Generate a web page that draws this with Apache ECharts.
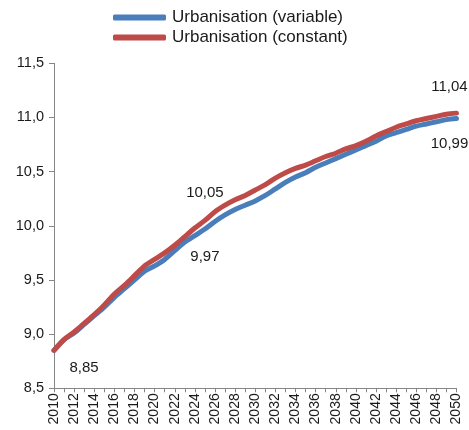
<!DOCTYPE html>
<html>
<head>
<meta charset="utf-8">
<script src="https://cdn.jsdelivr.net/npm/echarts@6/dist/echarts.min.js"></script>
<style>
  html, body { margin: 0; padding: 0; background: #fff; }
  #chart { width: 469px; height: 430px; }
</style>
</head>
<body>
<div id="chart"></div>
<script>
// Years on the horizontal axis
const years = [];
for (let y = 2010; y <= 2050; y++) years.push(String(y));

// Urbanisation held variable
const variableValues = [
  8.85, 8.95, 9.01, 9.09, 9.17, 9.25, 9.34, 9.42, 9.50, 9.58,
  9.63, 9.69, 9.77, 9.85, 9.91, 9.97, 10.04, 10.10, 10.15, 10.19,
  10.23, 10.28, 10.34, 10.40, 10.45, 10.49, 10.54, 10.58, 10.62, 10.66,
  10.70, 10.74, 10.78, 10.83, 10.86, 10.89, 10.92, 10.94, 10.96, 10.98,
  10.99
];

// Urbanisation held constant
const constantValues = [
  8.85, 8.95, 9.02, 9.10, 9.18, 9.27, 9.37, 9.45, 9.54, 9.63,
  9.69, 9.75, 9.82, 9.90, 9.98, 10.05, 10.13, 10.19, 10.24, 10.28,
  10.33, 10.38, 10.44, 10.49, 10.53, 10.56, 10.60, 10.64, 10.67, 10.71,
  10.74, 10.78, 10.83, 10.87, 10.91, 10.94, 10.97, 10.99, 11.01, 11.03,
  11.04
];

// Y axis range
const yMin = 8.5;
const yMax = 11.5;
const yStep = 0.5;

const fmt2 = v => v.toFixed(2).replace('.', ',');

// Attach value labels to selected points
function withLabels(values, labelled) {
  return values.map((v, i) => {
    const cfg = labelled[years[i]];
    if (!cfg) return v;
    return {
      value: v,
      label: Object.assign({
        show: true,
        formatter: p => fmt2(p.value),
        color: '#1a1a1a',
        fontSize: 15,
        fontFamily: 'Liberation Sans, Arial, sans-serif'
      }, cfg)
    };
  });
}

const variableData = withLabels(variableValues, {
  '2025': { position: 'bottom', offset: [0, 15] },
  '2050': { position: 'bottom', offset: [-7, 13] }
});
const constantData = withLabels(constantValues, {
  '2010': { position: 'bottom', offset: [30, 5] },
  '2025': { position: 'top', offset: [0, -15] },
  '2050': { position: 'top', offset: [-7, -14] }
});

const chart = echarts.init(document.getElementById('chart'), null, { renderer: 'canvas' });

chart.setOption({
  animation: false,
  backgroundColor: '#fff',
  textStyle: { fontFamily: 'Liberation Sans, Arial, sans-serif' },
  legend: {
    orient: 'vertical',
    left: 108,
    top: 4,
    itemWidth: 53,
    itemHeight: 6,
    itemGap: 3,
    icon: 'roundRect',
    textStyle: { fontSize: 17, color: '#1a1a1a', padding: [0, 0, 0, 1] },
    data: ['Urbanisation (variable)', 'Urbanisation (constant)']
  },
  grid: { left: 54, right: 12.5, top: 63.3, bottom: 41.7, containLabel: false },
  xAxis: {
    type: 'category',
    data: years,
    boundaryGap: false,
    axisLine: { lineStyle: { color: '#868686', width: 1 } },
    axisTick: { show: true, interval: 0, length: 4, lineStyle: { color: '#868686' } },
    axisLabel: { interval: 1, rotate: 90, margin: 5, fontSize: 14, color: '#1a1a1a' },
    splitLine: { show: false }
  },
  yAxis: {
    type: 'value',
    min: yMin,
    max: yMax,
    interval: yStep,
    axisLine: { show: true, lineStyle: { color: '#868686', width: 1 } },
    axisTick: { show: true, length: 5, lineStyle: { color: '#868686' } },
    axisLabel: { margin: 10, fontSize: 14.5, color: '#1a1a1a', formatter: v => v.toFixed(1).replace('.', ',') },
    splitLine: { show: false }
  },
  series: [
    {
      name: 'Urbanisation (variable)',
      type: 'line',
      data: variableData,
      smooth: 0.3,
      symbol: 'circle',
      symbolSize: 0,
      showSymbol: true,
      color: '#4a7ebb',
      lineStyle: { width: 5, color: '#4a7ebb', cap: 'round', join: 'round' }
    },
    {
      name: 'Urbanisation (constant)',
      type: 'line',
      data: constantData,
      smooth: 0.3,
      symbol: 'circle',
      symbolSize: 0,
      showSymbol: true,
      color: '#be4b48',
      lineStyle: { width: 5, color: '#be4b48', cap: 'round', join: 'round' }
    }
  ]
});
</script>
</body>
</html>
